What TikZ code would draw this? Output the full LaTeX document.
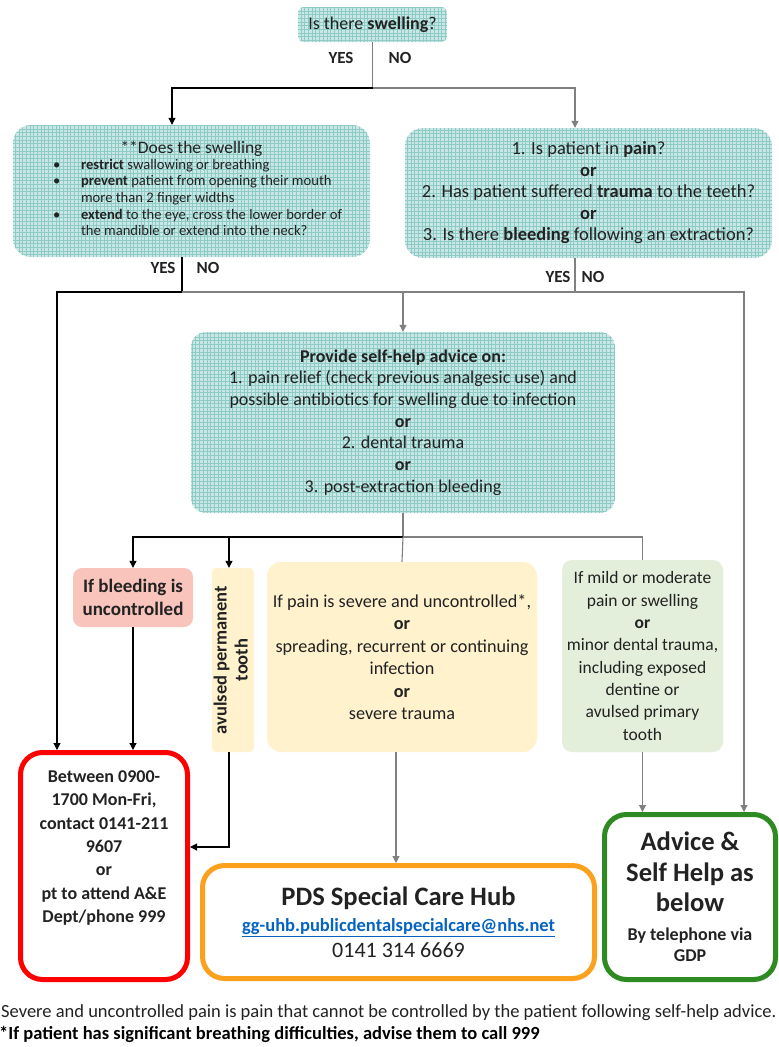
\documentclass[tikz,border=0pt]{standalone}
\usepackage{fontspec}
\setmainfont{Carlito}
\usetikzlibrary{arrows.meta,positioning}
\definecolor{gridbg}{HTML}{C9E8E5}
\definecolor{gridln}{HTML}{8FCBC6}
\definecolor{pinkfill}{HTML}{F8C4BC}
\definecolor{creamfill}{HTML}{FFF2CD}
\definecolor{mintfill}{HTML}{E3EFDB}
\definecolor{redln}{HTML}{FF0000}
\definecolor{orangeln}{HTML}{FBA11E}
\definecolor{greenln}{HTML}{2E8B22}
\definecolor{linegray}{HTML}{808080}
\definecolor{linkblue}{HTML}{0563C1}
\definecolor{inktext}{HTML}{222222}
\tikzset{
  gridbox/.style={rounded corners=#1, fill=gridbg, inner sep=0pt, align=center, text=inktext,
    path picture={\draw[gridln, line width=0.5pt] (path picture bounding box.south west)
      grid[step=3.7pt] (path picture bounding box.north east);}},
  gridbox/.default=14pt,
  softbox/.style={rounded corners=#1, inner sep=0pt, align=center, text=inktext},
  softbox/.default=12pt,
  thickbox/.style={draw=#1, line width=5pt, rounded corners=22pt, inner sep=0pt, align=center, text=inktext},
  yesno/.style={font=\fontsize{17}{19}\selectfont\bfseries, text=inktext},
  blk/.style={draw=black, line width=1.1pt},
  gry/.style={draw=linegray, line width=1.1pt},
  tip/.style={-{Triangle[length=7pt,width=7pt]}}
}
\begin{document}
\begin{tikzpicture}[x=1pt,y=-1pt]
\useasboundingbox[fill=white] (0,0) rectangle (779,1047);
% questions
\node[gridbox=6pt, minimum width=149pt, minimum height=35pt, font=\fontsize{18}{20}\selectfont]
  (swelq) at (372.5,24.5) {Is there \textbf{swelling}?};
\node[yesno] (yes1) at (341,58) {YES};
\node[yesno] (no1) at (400,58) {NO};
\node[gridbox=18pt, minimum width=357pt, minimum height=132pt] (swelbox) at (191.5,191)
  {\fontsize{17.5}{21}\selectfont **Does the swelling\\[0pt]
   \hspace*{12pt}\fontsize{14.6}{16.6}\selectfont
   \begin{tabular}{@{}p{28pt}@{}l@{}}
   • & \textbf{restrict} swallowing or breathing\\
   • & \textbf{prevent} patient from opening their mouth\\
     & more than 2 finger widths\\
   • & \textbf{extend} to the eye, cross the lower border of\\
     & the mandible or extend into the neck?
   \end{tabular}};
\node[gridbox=18pt, minimum width=367pt, minimum height=130pt, font=\fontsize{18.5}{21.5}\selectfont]
  (painbox) at (588.5,193)
  {1. Is patient in \textbf{pain}?\\ \textbf{or}\\ 2. Has patient suffered \textbf{trauma} to the teeth?\\
   \textbf{or}\\ 3. Is there \textbf{bleeding} following an extraction?};
\node[yesno] (yes2) at (163,268) {YES};
\node[yesno] (no2) at (208,268) {NO};
\node[yesno] (yes3) at (558,277) {YES};
\node[yesno] (no3) at (593,277) {NO};
% advice
\node[gridbox=15pt, minimum width=424pt, minimum height=181pt, font=\fontsize{18}{21.7}\selectfont]
  (helpbox) at (403,422.5)
  {\textbf{Provide self-help advice on:}\\ 1. pain relief (check previous analgesic use) and\\
   possible antibiotics for swelling due to infection\\ \textbf{or}\\ 2. dental trauma\\ \textbf{or}\\
   3. post-extraction bleeding};
% outcomes
\node[softbox=9pt, fill=pinkfill, minimum width=120pt, minimum height=59pt,
  font=\fontsize{19}{23}\selectfont\bfseries] (bleedbox) at (133,597.5) {If bleeding is\\ uncontrolled};
\node[softbox=4pt, fill=creamfill, minimum width=42pt, minimum height=184pt,
  font=\fontsize{18.5}{21}\selectfont\bfseries] (avulbox) at (233,660)
  {\rotatebox{90}{\begin{tabular}{@{}c@{}}avulsed permanent\\ tooth\end{tabular}}};
\node[softbox=14pt, fill=creamfill, minimum width=270pt, minimum height=190pt,
  font=\fontsize{18.2}{22.4}\selectfont] (creambox) at (402,657)
  {If pain is severe and uncontrolled*,\\ \textbf{or}\\ spreading, recurrent or continuing\\ infection\\
   \textbf{or}\\ severe trauma};
\node[softbox=10pt, fill=mintfill, minimum width=161pt, minimum height=192pt,
  font=\fontsize{17.5}{22.3}\selectfont] (mintbox) at (642.5,656)
  {If mild or moderate\\ pain or swelling\\ \textbf{or}\\ minor dental trauma,\\ including exposed\\
   dentine or\\ avulsed primary\\ tooth};
% destinations
\node[thickbox=redln, minimum width=167pt, minimum height=227pt] (redbx) at (104,866) {};
\node[font=\fontsize{18}{23.3}\selectfont\bfseries, align=center, text=inktext] (redtxt) at (104,848)
  {Between 0900-\\ 1700 Mon-Fri,\\ contact 0141-211\\ 9607\\ or\\ pt to attend A\&E\\ Dept/phone 999};
\node[thickbox=orangeln, minimum width=392pt, minimum height=113pt,
  font=\fontsize{26.6}{27}\selectfont\bfseries] (hubbox) at (398.5,922)
  {PDS Special Care Hub\\[-1pt]
   \fontsize{18.5}{25}\selectfont\color{linkblue}\underline{gg-uhb.publicdentalspecialcare@nhs.net}\\[-1pt]
   \fontsize{22}{25}\selectfont\mdseries 0141 314 6669};
\node[thickbox=greenln, minimum width=171pt, minimum height=165pt,
  font=\fontsize{26.6}{30.5}\selectfont\bfseries] (advbox) at (690,897)
  {Advice \&\\ Self Help as\\ below\\[-2pt]
   \fontsize{18}{21}\selectfont By telephone via\\[-9pt] \fontsize{18}{21}\selectfont GDP};
% notes
\node[anchor=west, inner sep=0pt, font=\fontsize{18.5}{20}\selectfont, text=inktext] (note1) at (1,1013)
  {Severe and uncontrolled pain is pain that cannot be controlled by the patient following self-help advice.};
\node[anchor=west, inner sep=0pt, font=\fontsize{18.5}{20}\selectfont\bfseries] (note2) at (-1,1034)
  {*If patient has significant breathing difficulties, advise them to call 999};
% connectors
\coordinate (j1) at (372.5,88);
\coordinate (j2) at (182,292);
\coordinate (j3) at (575,292);
\coordinate (j4) at (403,537);
\coordinate (c1) at (396,752);
\draw[gry] (swelq) -- (j1);
\draw[blk,tip] (j1) -| ([xshift=-19.5pt]swelbox.north);
\draw[gry,tip] (j1) -| ([xshift=-13.5pt]painbox.north);
\draw[blk] ([xshift=-9.5pt]swelbox.south) -- (j2);
\draw[blk,tip] (j2) -| ([xshift=-47pt]redbx.north);
\draw[gry,tip] (j2) -| (helpbox.north);
\draw[gry] ([xshift=-13.5pt]painbox.south) -- (j3);
\draw[gry] (j3) -- (j3 -| helpbox.north);
\draw[gry,tip] (j3) -| ([xshift=54pt]advbox.north);
\draw[gry] (helpbox.south) -- (j4);
\draw[blk,tip] (j4) -| (bleedbox.north);
\draw[blk,tip] (j4) -| ([xshift=-4pt]avulbox.north);
\draw[gry] (j4) -- (creambox.north);
\draw[gry] (j4) -| (mintbox.north);
\draw[blk,tip] (bleedbox.south) -- (bleedbox.south |- redbx.north);
\draw[blk,tip] ([xshift=-4pt]avulbox.south) |- ([yshift=19pt]redbx.east);
\draw[gry,tip] (c1) -- (c1 |- hubbox.north);
\draw[gry,tip] (mintbox.south) -- (mintbox.south |- advbox.north);
\end{tikzpicture}
\end{document}
